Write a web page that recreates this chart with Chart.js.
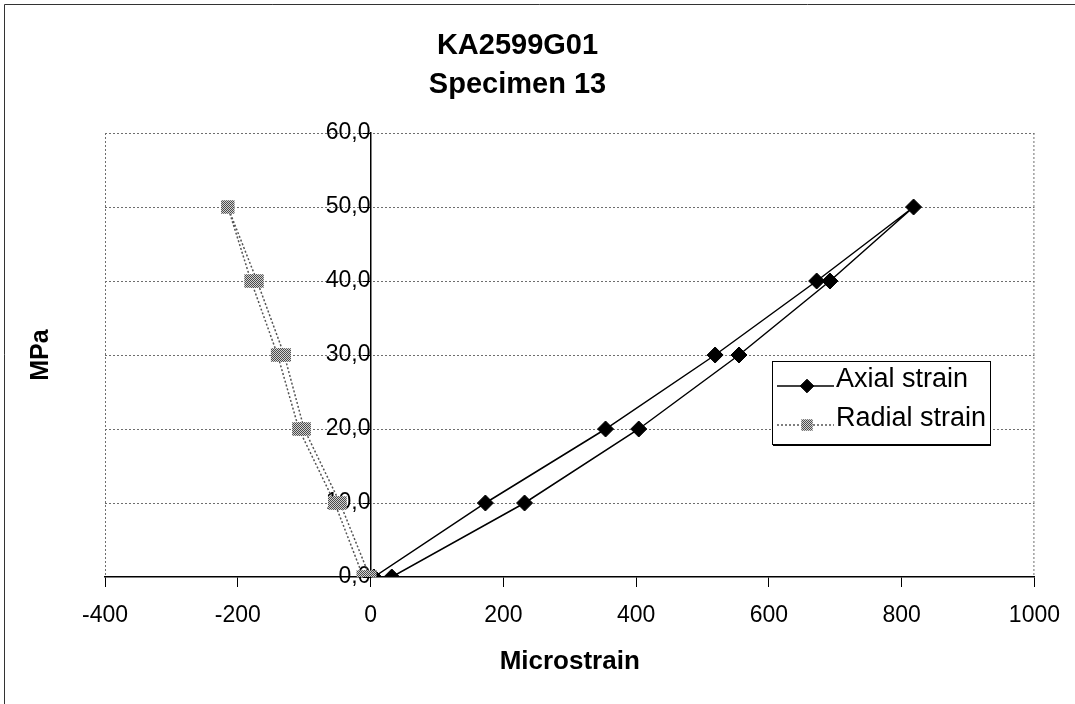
<!DOCTYPE html>
<html>
<head>
<meta charset="utf-8">
<script src="https://cdn.jsdelivr.net/npm/chart.js@4/dist/chart.umd.min.js"></script>
<style>
  html, body { margin: 0; padding: 0; background: #fff; }
  #wrap { width: 1075px; height: 704px; position: relative; }
</style>
</head>
<body>
<div id="wrap"><canvas id="c"></canvas></div>
<script>
// ---- chart content ----
const titleLines = ['KA2599G01', 'Specimen 13'];
const seriesNames = ['Axial strain', 'Radial strain'];

// loading / unloading cycle, strain in microstrain, stress in MPa
const axialStrain  = [5, 173, 354, 519, 672, 818, 692, 555, 404, 232, 32];
const axialStress  = [0, 10, 20, 30, 40, 50, 40, 30, 20, 10, 0];
const radialStrain = [-1, -46, -100, -130, -171, -215, -180, -140, -108, -54, -11];
const radialStress = [0, 10, 20, 30, 40, 50, 40, 30, 20, 10, 0];

const xTickValues = [-400, -200, 0, 200, 400, 600, 800, 1000];
const yTickValues = [0, 10, 20, 30, 40, 50, 60];
const yTickLabels = ['0,0', '10,0', '20,0', '30,0', '40,0', '50,0', '60,0'];
const xAxisTitle = 'Microstrain';
const yAxisTitle = 'MPa';

function toPoints(xs, ys) {
  return xs.map((x, i) => ({ x: x, y: ys[i] }));
}

// dithered grey fill for the square markers
function ditherPattern() {
  const c = document.createElement('canvas');
  c.width = 2; c.height = 2;
  const g = c.getContext('2d');
  g.fillStyle = '#d2d2d2';
  g.fillRect(0, 0, 2, 2);
  g.fillStyle = '#4a4a4a';
  g.fillRect(0, 0, 1, 1);
  g.fillRect(1, 1, 1, 1);
  return g.createPattern(c, 'repeat');
}

Chart.defaults.font.family = '"Liberation Sans", Arial, Helvetica, sans-serif';
Chart.defaults.color = '#000';

const FONT = '"Liberation Sans", Arial, Helvetica, sans-serif';
const legendBox = { left: 772, top: 361, width: 218, height: 83 };

// dotted plot-area sides, page frame and the boxed legend
const framePlugin = {
  id: 'framePlugin',
  beforeDatasetsDraw(chart) {
    const { ctx, chartArea: a } = chart;
    ctx.save();
    ctx.strokeStyle = '#6e6e6e';
    ctx.lineWidth = 1;
    ctx.setLineDash([2, 2]);
    ctx.beginPath();
    ctx.moveTo(a.left + 0.5, a.top);
    ctx.lineTo(a.left + 0.5, a.bottom);
    ctx.moveTo(a.right - 0.5, a.top);
    ctx.lineTo(a.right - 0.5, a.bottom);
    ctx.stroke();
    ctx.restore();
  },
  afterDraw(chart) {
    const ctx = chart.ctx;
    ctx.save();
    // page frame (top and left edges)
    ctx.strokeStyle = '#333';
    ctx.lineWidth = 1;
    ctx.beginPath();
    ctx.moveTo(4.5, chart.height);
    ctx.lineTo(4.5, 4.5);
    ctx.lineTo(chart.width, 4.5);
    ctx.stroke();

    // legend
    const L = legendBox;
    ctx.fillStyle = '#fff';
    ctx.fillRect(L.left, L.top, L.width, L.height);
    ctx.strokeStyle = '#000';
    ctx.lineWidth = 1;
    ctx.strokeRect(L.left + 0.5, L.top + 0.5, L.width, L.height);
    ctx.lineWidth = 2;
    ctx.beginPath();
    ctx.moveTo(L.left + 1, L.top + L.height + 1);
    ctx.lineTo(L.left + L.width + 1, L.top + L.height + 1);
    ctx.stroke();

    chart.data.datasets.forEach((ds, i) => {
      const lineY = L.top + 25 + i * 39;
      ctx.save();
      ctx.setLineDash(ds.borderDash || []);
      ctx.strokeStyle = ds.borderColor;
      ctx.lineWidth = ds.borderWidth;
      ctx.beginPath();
      ctx.moveTo(L.left + 5, lineY);
      ctx.lineTo(L.left + 62, lineY);
      ctx.stroke();
      ctx.setLineDash([]);
      ctx.fillStyle = ds.pointBackgroundColor;
      ctx.strokeStyle = ds.pointBorderColor;
      ctx.lineWidth = ds.pointBorderWidth;
      Chart.helpers.drawPoint(ctx, {
        pointStyle: ds.pointStyle,
        radius: ds.pointRadius * 0.85,
        rotation: 0,
        borderWidth: ds.pointBorderWidth
      }, L.left + 35, lineY);
      ctx.restore();
      ctx.fillStyle = '#000';
      ctx.font = '27px ' + FONT;
      ctx.textAlign = 'left';
      ctx.textBaseline = 'middle';
      ctx.fillText(ds.label, L.left + 64, lineY - 6);
    });
    ctx.restore();
  }
};

const chart = new Chart(document.getElementById('c'), {
  type: 'scatter',
  data: {
    datasets: [
      {
        label: seriesNames[0],
        data: toPoints(axialStrain, axialStress),
        showLine: true,
        borderColor: '#000',
        borderWidth: 1.5,
        pointStyle: 'rectRot',
        pointRadius: 8,
        pointBackgroundColor: '#000',
        pointBorderColor: '#000',
        pointBorderWidth: 1,
        tension: 0,
        order: 1
      },
      {
        label: seriesNames[1],
        data: toPoints(radialStrain, radialStress),
        showLine: true,
        borderColor: '#555',
        borderWidth: 1.5,
        borderDash: [2, 2],
        pointStyle: 'rect',
        pointRadius: 9.5,
        pointBackgroundColor: ditherPattern(),
        pointBorderColor: '#777',
        pointBorderWidth: 0,
        tension: 0,
        order: 0
      }
    ]
  },
  options: {
    responsive: true,
    maintainAspectRatio: false,
    animation: false,
    events: [],
    layout: { padding: { left: 0, right: 40, top: 0, bottom: 0 } },
    plugins: {
      legend: { display: false },
      tooltip: { enabled: false },
      title: {
        display: true,
        text: titleLines,
        color: '#000',
        font: { size: 29, weight: 'bold', lineHeight: '39px' },
        padding: { top: 26, bottom: 29 }
      }
    },
    scales: {
      x: {
        type: 'linear',
        position: 'bottom',
        min: -400,
        max: 1000,
        afterBuildTicks(s) { s.ticks = xTickValues.map(v => ({ value: v })); },
        afterFit(s) { s.height = 127; },
        ticks: {
          font: { size: 23 },
          color: '#000',
          padding: 15,
          maxRotation: 0,
          callback: v => String(v)
        },
        grid: {
          display: true,
          drawOnChartArea: false,
          drawTicks: true,
          tickLength: 10,
          tickColor: '#000',
          tickWidth: 1,
          color: '#000'
        },
        border: { display: true, color: '#000', width: 1.5 },
        title: {
          display: true,
          text: xAxisTitle,
          color: '#000',
          font: { size: 26, weight: 'bold' },
          padding: { top: 0, bottom: 27 }
        }
      },
      y: {
        type: 'linear',
        position: { x: 0 },
        min: 0,
        max: 60,
        afterBuildTicks(s) { s.ticks = yTickValues.map(v => ({ value: v })); },
        ticks: {
          font: { size: 23 },
          color: '#000',
          padding: 13,
          callback: v => yTickLabels[yTickValues.indexOf(v)]
        },
        grid: {
          display: true,
          drawOnChartArea: true,
          drawTicks: true,
          tickLength: 7,
          tickColor: '#000',
          tickWidth: 1,
          tickBorderDash: [],
          lineWidth: 1,
          color: c => (c.tick && c.tick.value === 0) ? 'rgba(0,0,0,0)' : '#6e6e6e'
        },
        border: { display: true, color: '#000', width: 1.5, dash: [2, 2] }
      },
      yTitle: {
        type: 'linear',
        position: 'left',
        axis: 'y',
        display: true,
        afterFit(s) { s.width = 105; },
        ticks: { display: false },
        grid: { display: false, drawTicks: false },
        border: { display: false },
        title: {
          display: true,
          text: yAxisTitle,
          color: '#000',
          font: { size: 25, weight: 'bold' },
          padding: { top: 26, bottom: 0 }
        }
      }
    }
  },
  plugins: [framePlugin]
});
</script>
</body>
</html>
